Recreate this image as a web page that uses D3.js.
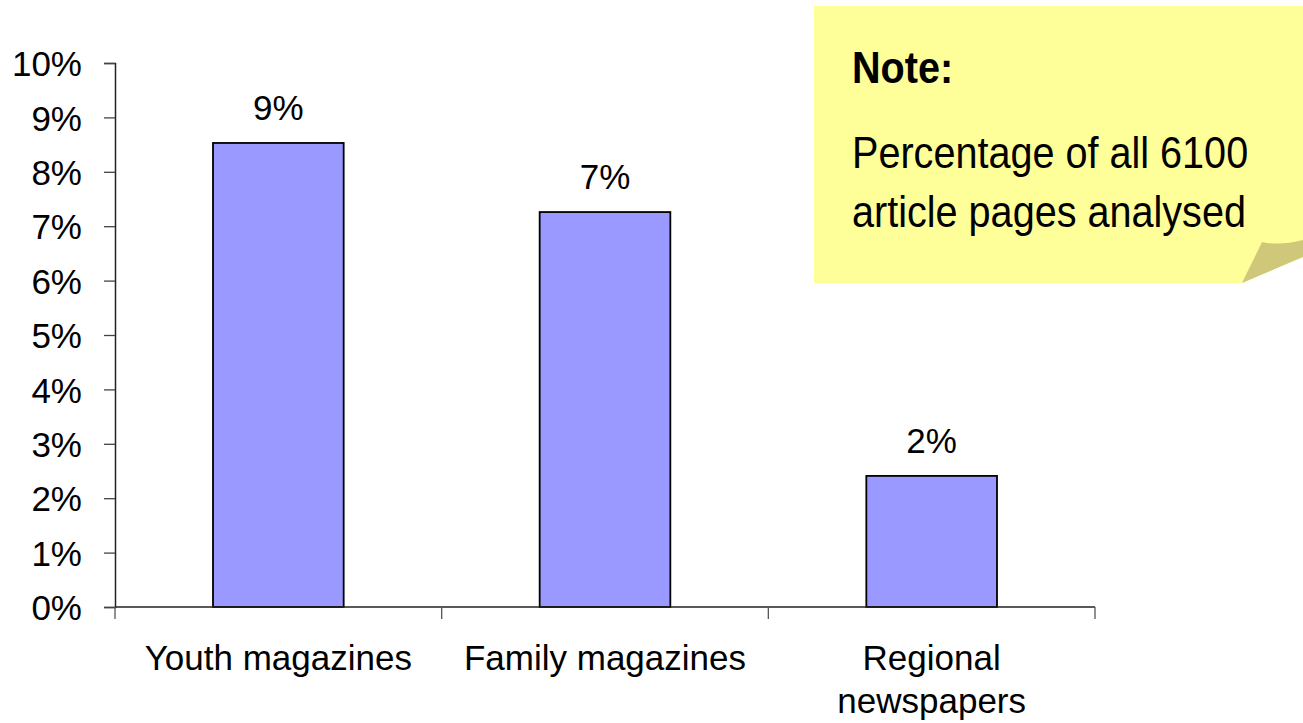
<!DOCTYPE html>
<html lang="en">
<head>
    <meta charset="utf-8">
    <title>Article pages</title>
    <script src="https://cdn.jsdelivr.net/npm/d3@7"></script>
    <style>
        body { margin: 0; background: #fff; }
        text { font-family: "Liberation Sans", Arial, sans-serif; fill: #000; }
    </style>
</head>
<body>
    <div id="chart"></div>

    <script>
        // data
        const categories = ["Youth magazines", "Family magazines", "Regional newspapers"];
        const shares = [0.0853, 0.0726, 0.0241];
        const categoryLines = [["Youth magazines"], ["Family magazines"], ["Regional", "newspapers"]];
        const noteTitle = "Note:";
        const noteLines = ["Percentage of all 6100", "article pages analysed"];

        const width = 1303;
        const height = 723;
        const margin = { top: 63, right: 208, bottom: 116, left: 115 };

        const svg = d3.select("#chart")
          .append("svg")
          .attr("width", width)
          .attr("height", height);

        const x = d3.scaleBand()
          .domain(categories)
          .range([margin.left, width - margin.right])
          .paddingInner(0.6)
          .paddingOuter(0.3);

        const y = d3.scaleLinear()
          .domain([0, 0.10])
          .range([height - margin.bottom, margin.top]);

        const pct = d3.format(".0%");

        // note box with folded corner
        const note = svg.append("g");
        note.append("path")
          .attr("d", "M814,6 H1303 V257 L1242,283 H814 Z")
          .attr("fill", "#ffff99");
        note.append("path")
          .attr("d", "M1242,283 L1262,242 Q1280,246 1303,240 V257 Z")
          .attr("fill", "#cfc87a");
        note.append("text")
          .attr("transform", "translate(852,83) scale(0.9,1)")
          .attr("font-size", 44)
          .attr("font-weight", "bold")
          .text(noteTitle);
        note.selectAll("text.line")
          .data(noteLines)
          .enter()
          .append("text")
          .attr("class", "line")
          .attr("transform", (d, i) => `translate(852,${168 + i * 59}) scale(0.9,1)`)
          .attr("font-size", 44)
          .text(d => d);

        // y axis
        const yAxis = svg.append("g")
          .attr("transform", `translate(${margin.left},0)`)
          .call(d3.axisLeft(y).ticks(10).tickFormat(pct).tickSize(11).tickPadding(22));
        yAxis.select(".domain").attr("stroke", "#222").attr("stroke-width", 1.5);
        yAxis.selectAll(".tick line").attr("stroke", "#444").attr("stroke-width", 1.3);
        yAxis.selectAll(".tick text")
          .attr("font-size", 35)
          .attr("font-family", "Liberation Sans, Arial, sans-serif")
          .attr("fill", "#000")
          .attr("dy", "0.36em");

        // bars
        svg.append("g")
          .selectAll("rect")
          .data(shares)
          .enter()
          .append("rect")
          .attr("x", (d, i) => x(categories[i]))
          .attr("y", d => y(d))
          .attr("width", x.bandwidth())
          .attr("height", d => y(0) - y(d))
          .attr("fill", "#9999ff")
          .attr("stroke", "#000")
          .attr("stroke-width", 1.8);

        // value labels
        svg.append("g")
          .selectAll("text")
          .data(shares)
          .enter()
          .append("text")
          .attr("x", (d, i) => x(categories[i]) + x.bandwidth() / 2)
          .attr("y", d => y(d) - 23)
          .attr("text-anchor", "middle")
          .attr("font-size", 35)
          .text(d => pct(d));

        // x axis line and boundary ticks
        const x0 = x.range()[0];
        const x1 = x.range()[1];
        const bottom = y(0);
        svg.append("line")
          .attr("x1", x0).attr("x2", x1)
          .attr("y1", bottom).attr("y2", bottom)
          .attr("stroke", "#222")
          .attr("stroke-width", 1.5);
        svg.append("g")
          .selectAll("line")
          .data(d3.range(categories.length + 1))
          .enter()
          .append("line")
          .attr("x1", i => x0 + i * x.step())
          .attr("x2", i => x0 + i * x.step())
          .attr("y1", bottom)
          .attr("y2", bottom + 12)
          .attr("stroke", "#555")
          .attr("stroke-width", 1.3);

        // category labels
        svg.append("g")
          .selectAll("g")
          .data(categories)
          .enter()
          .append("g")
          .each(function(d, i) {
              d3.select(this).selectAll("text")
                .data(categoryLines[i])
                .enter()
                .append("text")
                .attr("x", x(d) + x.bandwidth() / 2)
                .attr("y", (t, j) => 670 + j * 43)
                .attr("text-anchor", "middle")
                .attr("font-size", 35)
                .text(t => t);
          });
    </script>
</body>
</html>
